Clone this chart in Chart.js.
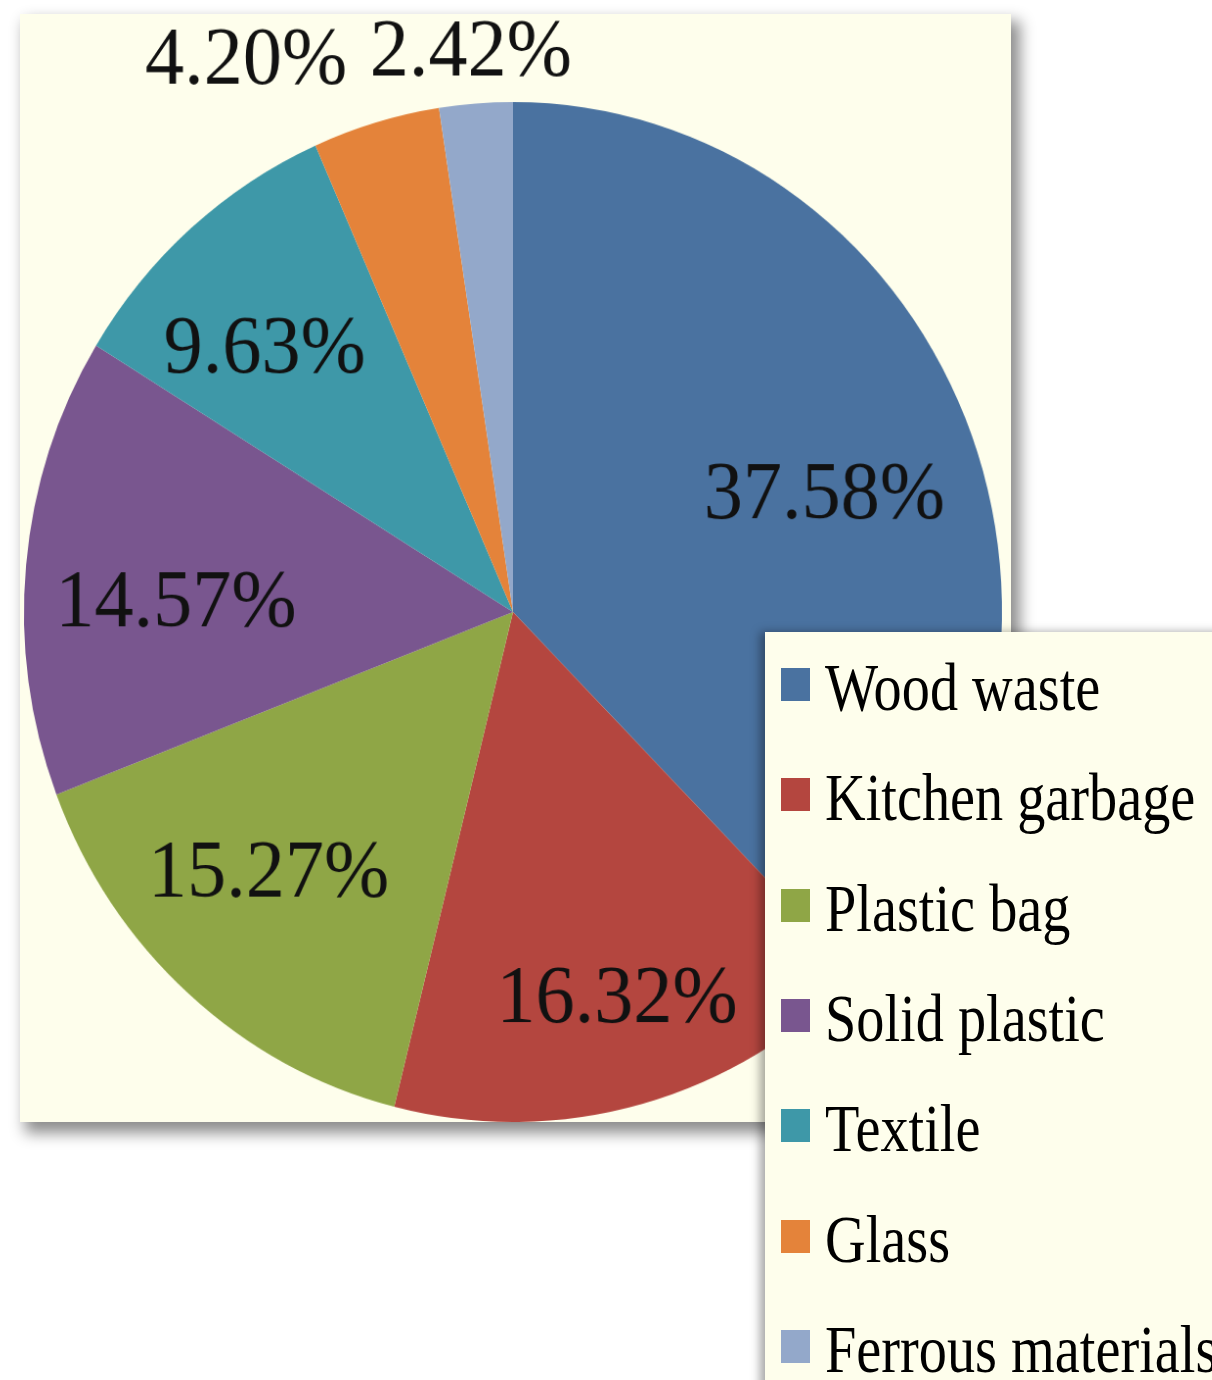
<!DOCTYPE html>
<html>
<head>
<meta charset="utf-8">
<script src="https://cdn.jsdelivr.net/npm/chart.js@4.4.1/dist/chart.umd.min.js"></script>
<style>
  html, body { margin: 0; padding: 0; background: #ffffff; }
  body { width: 1212px; height: 1380px; position: relative; overflow: hidden; font-family: "Liberation Serif", "DejaVu Serif", serif; }
  #panel { position: absolute; left: 20px; top: 14px; width: 991px; height: 1108px; background: #FEFEEC;
           box-shadow: 7px 9px 14px 2px rgba(0,0,0,0.45); }
  #wrap { position: absolute; left: 0; top: 0; width: 1212px; height: 1380px;
          transform: scale(0.978, 1.02); transform-origin: 513px 612px; }
  #legendBox { position: absolute; left: 765px; top: 632px; width: 470px; height: 780px; background: #FEFEEC;
               box-shadow: -5px 0 9px rgba(0,0,0,0.35); }
  .item { position: absolute; left: 16px; height: 0; }
  .sw { position: absolute; left: 0; width: 29px; height: 33px; top: -17px; }
  .tx { position: absolute; left: 44px; top: -43px; font-size: 67px; line-height: 90px; white-space: nowrap; color: #000;
        transform: scaleX(0.84); transform-origin: 0 50%; }
</style>
</head>
<body>
<div id="panel"></div>
<div id="wrap"><canvas id="c" width="1212" height="1380"></canvas></div>
<div id="legendBox"></div>
<script>
// ---- data ----
const categories = ["Wood waste", "Kitchen garbage", "Plastic bag", "Solid plastic", "Textile", "Glass", "Ferrous materials"];
const shares = [37.58, 16.32, 15.27, 14.57, 9.63, 4.20, 2.42];
const colors = ["#4A72A0", "#B4463F", "#8FA646", "#79568F", "#3E98A8", "#E4833A", "#93A8CA"];

// ---- label styling (distance as fraction of radius, angle nudge in degrees) ----
const labelDist = [0.68, 0.78, 0.71, 0.69, 0.73, 1.22, 1.11];
const labelNudge = [1.8, -0.5, 3.2, -3.0, -2.9, -10.3, -0.1];

const labelPlugin = {
  id: 'sliceLabels',
  afterDatasetsDraw(chart) {
    const ctx = chart.ctx;
    const meta = chart.getDatasetMeta(0);
    const size = 80;
    ctx.save();
    ctx.font = size + 'px "Liberation Serif", "Times New Roman", serif';
    ctx.fillStyle = '#111';
    ctx.textAlign = 'center';
    ctx.textBaseline = 'alphabetic';
    meta.data.forEach((arc, i) => {
      const p = arc.getProps(['x', 'y', 'startAngle', 'endAngle', 'outerRadius'], true);
      const mid = (p.startAngle + p.endAngle) / 2 + labelNudge[i] * Math.PI / 180;
      const r = p.outerRadius * labelDist[i];
      const x = p.x + Math.cos(mid) * r;
      const y = p.y + Math.sin(mid) * r;
      ctx.fillText(shares[i].toFixed(2) + '%', x, y + size * 0.34);
    });
    ctx.restore();
  }
};

const chart = new Chart(document.getElementById('c'), {
  type: 'pie',
  data: {
    labels: categories,
    datasets: [{
      data: shares,
      backgroundColor: colors,
      borderWidth: 0
    }]
  },
  options: {
    responsive: false,
    animation: false,
    layout: { padding: { left: 13, right: 199, top: 112, bottom: 268 } },
    plugins: { legend: { display: false }, tooltip: { enabled: false } }
  },
  plugins: [labelPlugin]
});

// ---- legend built from the chart's data ----
const box = document.getElementById('legendBox');
chart.data.labels.forEach((lab, i) => {
  const it = document.createElement('div');
  it.className = 'item';
  it.style.top = (53 + i * 110.3) + 'px';
  const sw = document.createElement('div');
  sw.className = 'sw';
  sw.style.background = chart.data.datasets[0].backgroundColor[i];
  const tx = document.createElement('div');
  tx.className = 'tx';
  tx.textContent = lab;
  it.appendChild(sw);
  it.appendChild(tx);
  box.appendChild(it);
});
</script>
</body>
</html>
